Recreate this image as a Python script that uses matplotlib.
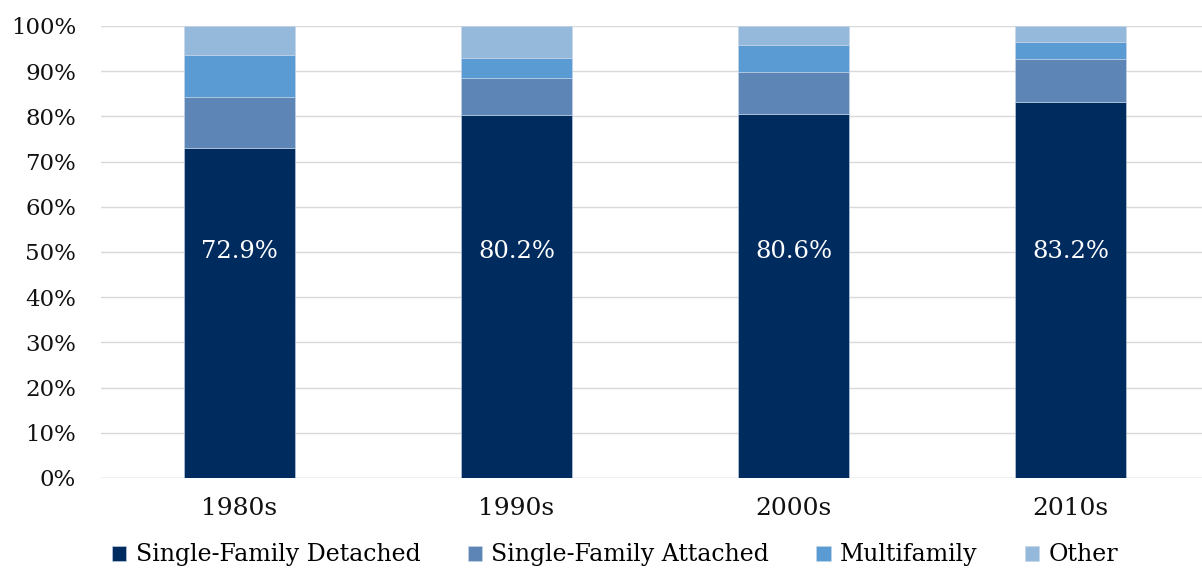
import matplotlib.pyplot as plt
import numpy as np

decades = ["1980s", "1990s", "2000s", "2010s"]
series = ["Single-Family Detached", "Single-Family Attached", "Multifamily", "Other"]
detached = [72.9, 80.2, 80.6, 83.2]
attached = [11.5, 8.2, 9.2, 9.6]
multifamily = [9.2, 4.6, 6.0, 3.7]
other = [6.4, 7.0, 4.2, 3.5]
colors = ["#002b5f", "#5d85b6", "#5b9bd3", "#94b9db"]

plt.rcParams["font.family"] = ["DejaVu Serif"]

fig = plt.figure(figsize=(12.02, 5.69), dpi=100)
ax = fig.add_axes([101 / 1202, 1 - 478 / 569, 1101 / 1202, 452 / 569])

x = np.arange(len(decades))
bottom = np.zeros(len(decades))
for vals, name, c in zip([detached, attached, multifamily, other], series, colors):
    ax.bar(x, vals, 0.4, bottom=bottom, color=c, label=name,
           edgecolor="#c8d6e8", linewidth=0.4, zorder=2)
    bottom += np.array(vals)

for xi, v in zip(x, detached):
    ax.text(xi, 50, f"{v:.1f}%", ha="center", va="center", color="white", fontsize=17.5)

ax.set_xlim(-0.5, 3.475)
ax.set_ylim(0, 100)
ax.set_yticks(np.arange(0, 101, 10))
ax.set_yticklabels([f"{t}%" for t in range(0, 101, 10)])
ax.set_xticks(x)
ax.set_xticklabels(decades)
ax.tick_params(length=0, labelsize=16.5, colors="#111111")
ax.tick_params(axis="x", labelsize=18, pad=14)
ax.tick_params(axis="y", pad=18)
ax.grid(axis="y", color="#d9d9d9", linewidth=1, zorder=0)
for s in ax.spines.values():
    s.set_visible(False)
ax.axhline(0, color="#d9d9d9", linewidth=1, zorder=1)

ax.legend(loc="center", bbox_to_anchor=(0.467, -0.17), ncol=4, frameon=False,
          fontsize=17, handlelength=0.6, handleheight=0.6, handletextpad=0.4,
          columnspacing=2.0)

fig.savefig("out.png")
